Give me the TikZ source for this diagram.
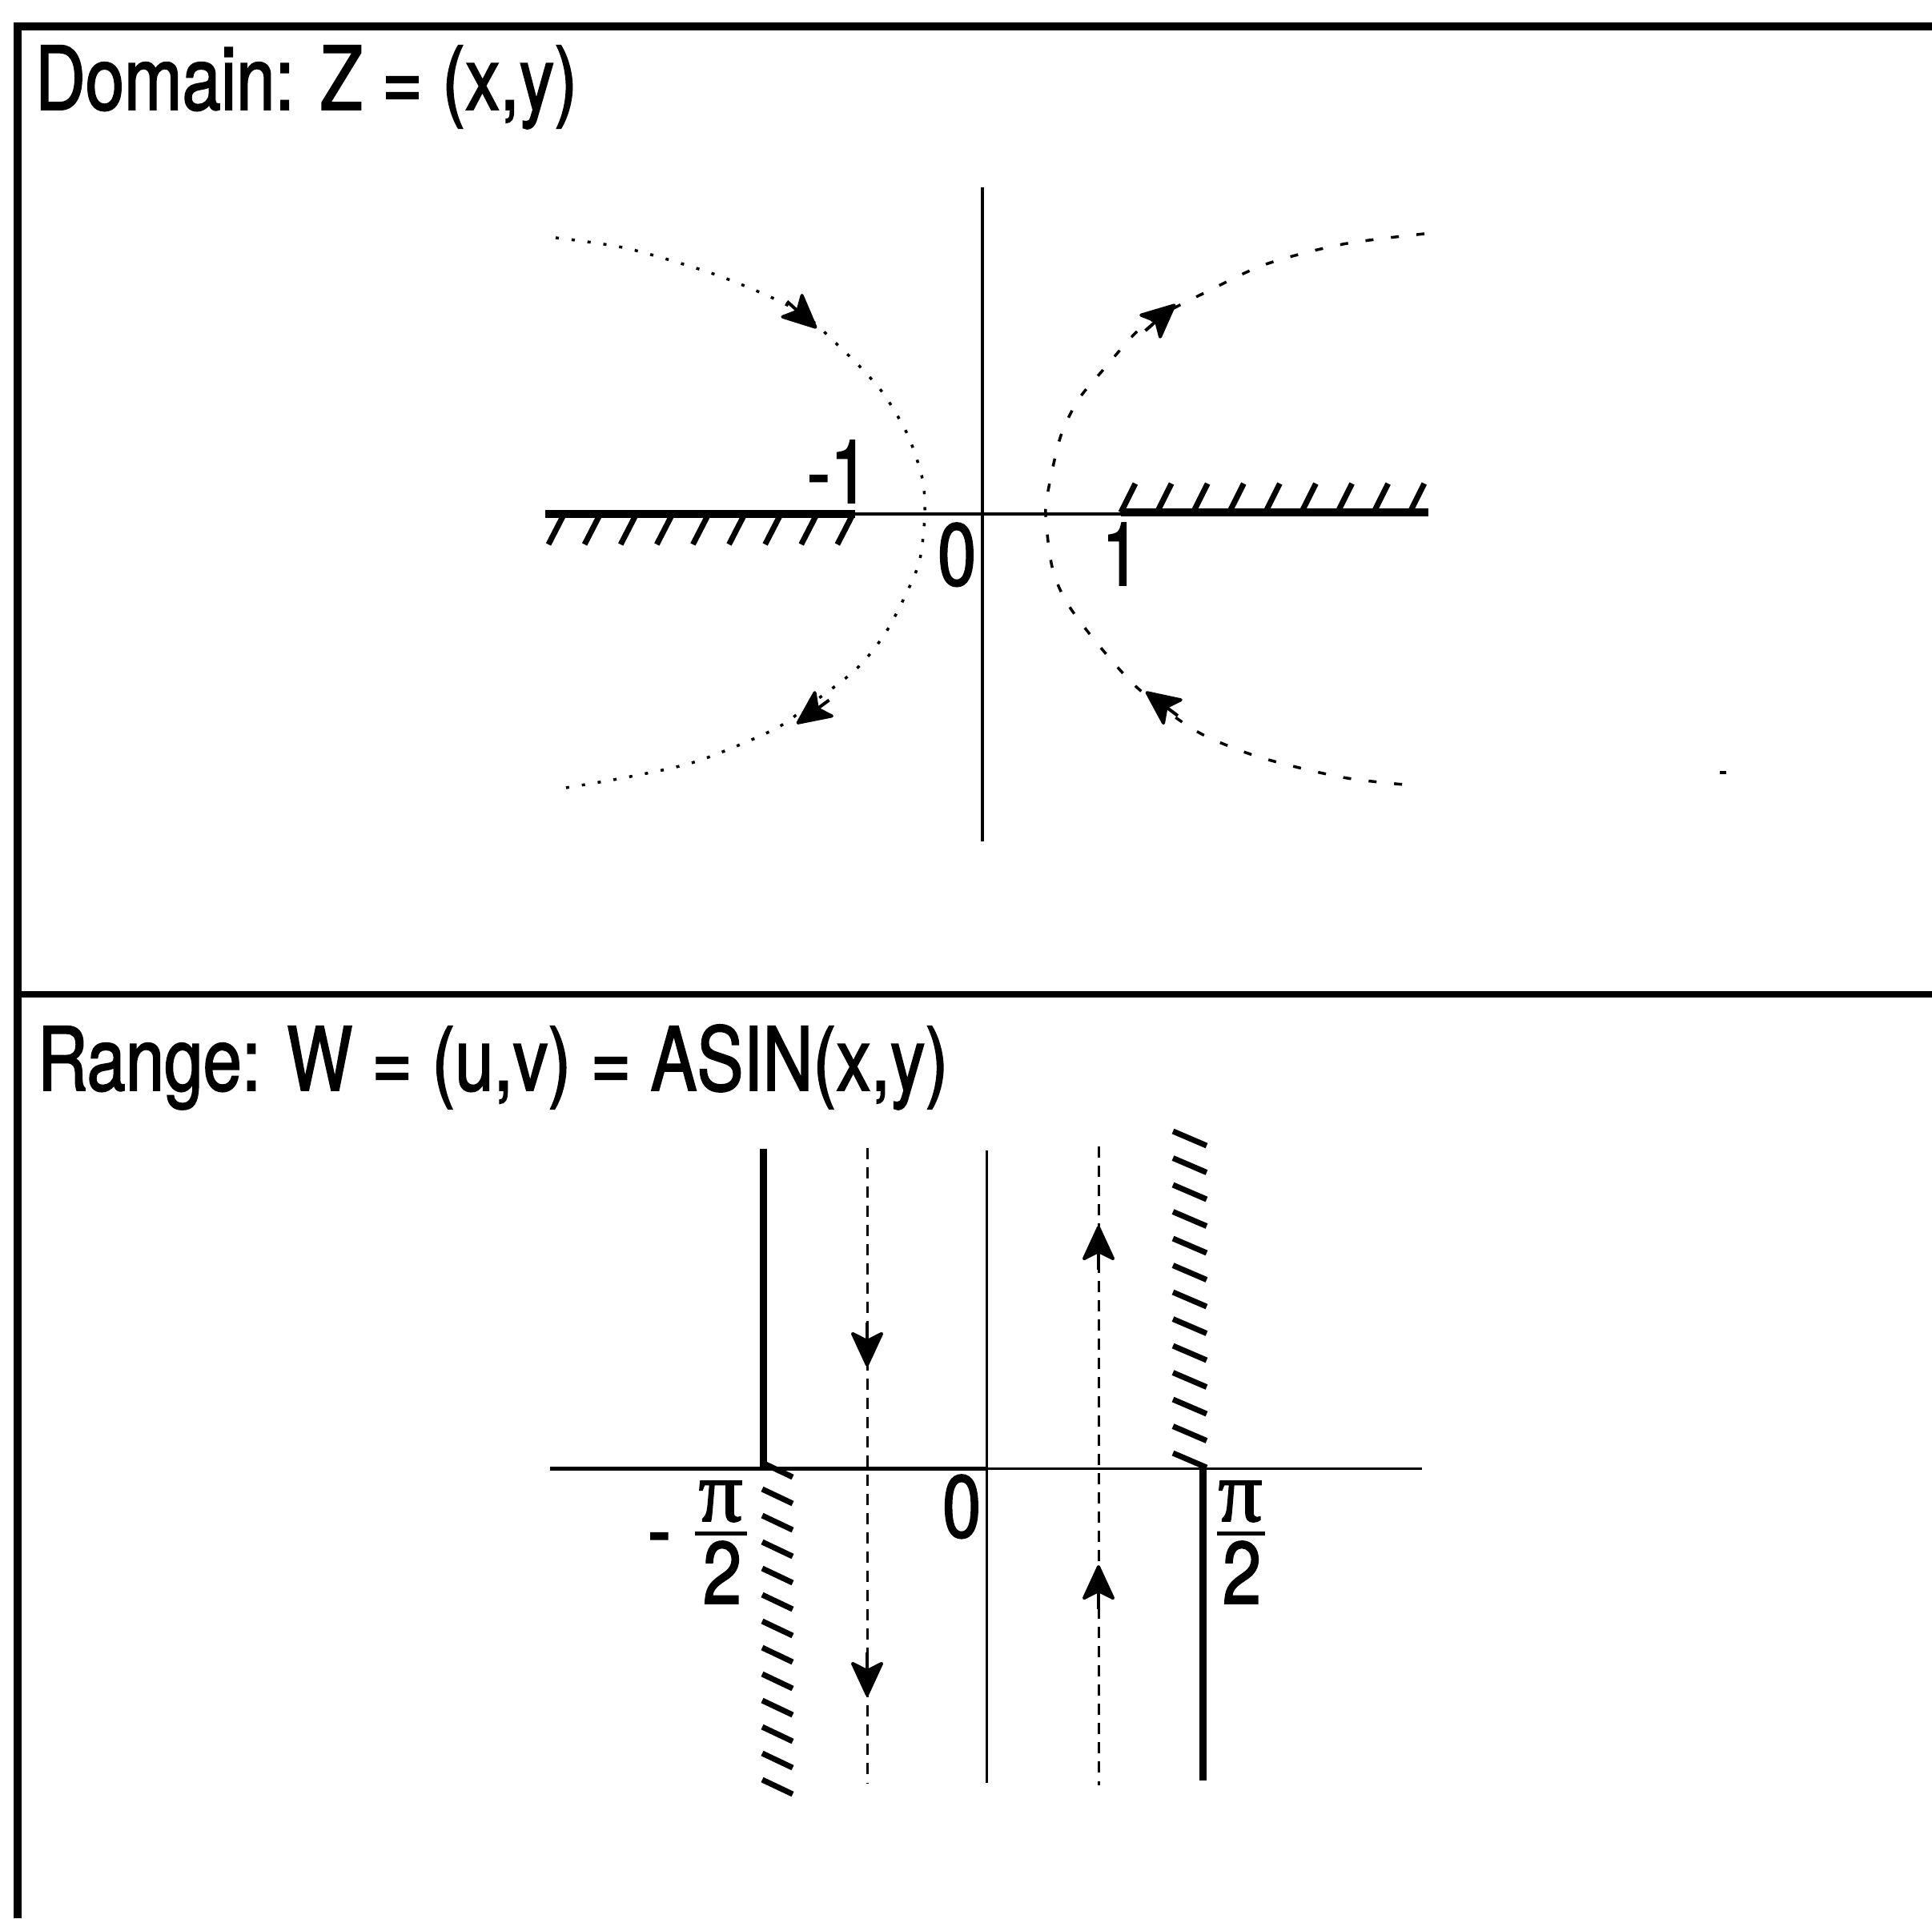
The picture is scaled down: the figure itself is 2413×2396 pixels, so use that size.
\documentclass[tikz,border=0pt]{standalone}
\usepackage{fontspec}
\setmainfont{TeX Gyre Heros}[FakeStretch=0.79,FakeBold=1.6]
\newfontfamily\pifont{Liberation Serif}[FakeBold=1.6]
\usetikzlibrary{arrows.meta}
\begin{document}
\begin{tikzpicture}[x=0.01cm,y=-0.01cm,
  thinaxis/.style={line width=0.4mm},
  cutline/.style={line width=1mm},
  hatchtick/.style={line width=0.7mm},
  dotcurve/.style={line width=0.35mm, dash pattern=on 0.4mm off 1.6mm},
  dashcurve/.style={line width=0.35mm, dash pattern=on 1mm off 2.2mm},
  dashline/.style={line width=0.3mm, dash pattern=on 1.4mm off 1mm},
  arr/.style={solid, line width=0.4mm, -{Stealth[length=4.8mm,width=4.4mm,inset=1.1mm,round]}},
  lbl/.style={inner sep=0pt, outer sep=0pt, font=\fontsize{31.3pt}{36pt}\selectfont},
  pilbl/.style={inner sep=0pt, outer sep=0pt, font=\pifont\fontsize{31pt}{36pt}\selectfont},
]
\useasboundingbox (0,0) rectangle (2413,2396);
\clip (0,0) rectangle (2413,2396);

% frame
\draw[line width=1mm] (18,33) -- (2413,33);
\draw[line width=0.9mm] (22,28) -- (22,2396);
\draw[line width=0.8mm] (18,1242) -- (2413,1242);

% titles
\node[lbl, anchor=base west] (t1) at (44,137) {Domain: Z = (x,y)};
\node[lbl, anchor=base west] (t2) at (47,1362) {Range: W = (u,v) = ASIN(x,y)};

% ---------- top panel ----------
\draw[thinaxis] (681,642) -- (1784,642);
\draw[thinaxis] (1227,234) -- (1227,1051);
\draw[cutline] (681,642) -- (1068,642);
\draw[cutline] (1400,640) -- (1784,640);
\foreach \k in {0,...,8}
  \draw[hatchtick] (685+45.1*\k,680) -- (703+45.1*\k,645);
\foreach \k in {0,...,8}
  \draw[hatchtick] (1400+45.1*\k,640) -- (1418+45.1*\k,604);

\node[lbl, anchor=base west] (m1) at (1008,628) {-1};
\node[lbl, anchor=base west] (z0) at (1171,731) {0};
\node[lbl, anchor=base west] (p1) at (1376,731) {1};

\draw[dotcurve] plot[smooth] coordinates {(694,297) (782,310) (885,340) (958,369) (1006,394) (1039,424) (1075,459) (1105,494) (1134,544) (1152,598) (1155,643) (1149,698) (1134,737) (1105,792) (1068,837) (1009,882) (965,912) (870,951) (782,971) (694,986)};
\draw[dashcurve] plot[smooth] coordinates {(1779,292) (1677,305) (1581,330) (1508,364) (1449,394) (1420,414) (1376,464) (1347,499) (1325,544) (1310,608) (1306,643) (1314,708) (1332,752) (1369,802) (1413,852) (1449,882) (1501,917) (1574,946) (1677,971) (1765,981)};

\draw[arr] (983,376.5) -- (1020,410);
\draw[arr] (1035.5,874.5) -- (995,904);
\draw[arr] (1430.5,413) -- (1468,380);
\draw[arr] (1471,894) -- (1431,864);

\fill (2148,963) rectangle (2156,967);

% ---------- bottom panel ----------
\draw[line width=0.5mm] (687,1834) -- (1232,1834);
\draw[line width=0.3mm] (1232,1834) -- (1776,1834);
\draw[line width=0.3mm] (1232,1437) -- (1232,2227);
\draw[line width=0.9mm] (953,1435) -- (953,1834);
\draw[line width=0.9mm] (1502,1834) -- (1502,2224);
\foreach \k in {0,...,12}
  \draw[hatchtick] (952,1827+33*\k) -- (990,1845+33*\k);
\foreach \k in {0,...,12}
  \draw[hatchtick] (1465,1815-33.5*\k) -- (1507,1833-33.5*\k);

\draw[dashline] (1083,1434) -- (1083,2227);
\draw[dashline] (1372,1432) -- (1372,2230);
\draw[arr] (1083,1652) -- (1083,1707);
\draw[arr] (1083,2064) -- (1083,2119);
\draw[arr] (1372,1586) -- (1372,1531);
\draw[arr] (1372,2010) -- (1372,1955);

\node[lbl, anchor=base west] (z0b) at (1177,1920) {0};
\node[lbl, anchor=base west] (minus) at (809,1949) {-};
\node[pilbl, anchor=base] (pil) at (900,1900) {π};
\node[pilbl, anchor=base] (pir) at (1549,1900) {π};
\draw[line width=0.5mm] (868,1915) -- (933,1915);
\draw[line width=0.5mm] (1520,1915) -- (1580,1915);
\node[lbl, anchor=base] (twol) at (902,2003) {2};
\node[lbl, anchor=base] (twor) at (1551,2003) {2};
\end{tikzpicture}
\end{document}
